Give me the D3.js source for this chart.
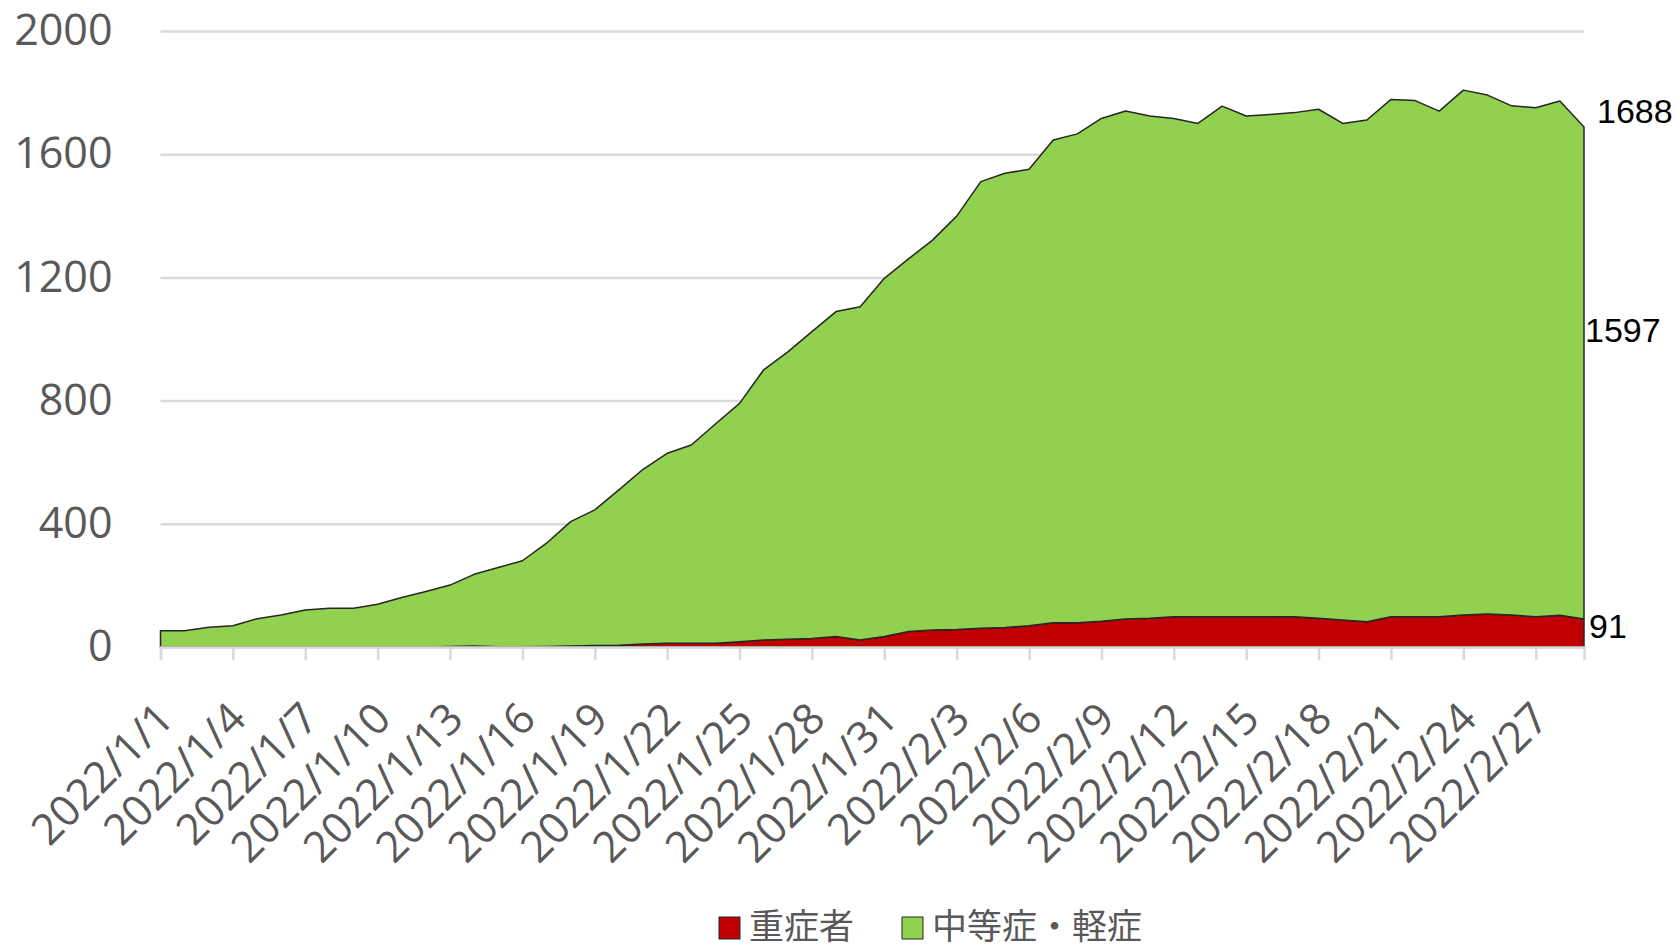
<!DOCTYPE html>
<html>
<head>
<meta charset="utf-8">
<script src="https://cdn.jsdelivr.net/npm/d3@7"></script>
<style>
  body { margin: 0; background: #fff; }
  svg { display: block; }
</style>
</head>
<body>
<svg id="chart"></svg>
<script>
// categories: one day each, 2022/1/1 .. 2022/3/1
let dates = d3.timeDay.range(new Date(2022, 0, 1), new Date(2022, 2, 2))

// 重症者
let severe = [0, 0, 0, 0, 0, 0, 0, 0, 0, 0, 0, 0, 2, 3, 1, 1, 2, 3, 5, 6,
              10, 12, 12, 12, 17, 23, 25, 28, 34, 23, 34, 50, 55, 57, 61, 63, 69, 79, 79, 84,
              91, 93, 98, 98, 98, 98, 98, 98, 93, 88, 82, 98, 98, 98, 104, 107, 104, 98, 103, 91]

// 中等症・軽症
let moderate = [53, 53, 64, 69, 92, 104, 120, 126, 126, 139, 161, 180, 199, 233, 257, 279, 335, 404, 440, 504,
                567, 617, 644, 712, 774, 877, 933, 996, 1055, 1082, 1163, 1210, 1266, 1342, 1450, 1475, 1482, 1567, 1587, 1632,
                1649, 1631, 1618, 1602, 1658, 1626, 1631, 1637, 1653, 1612, 1629, 1680, 1676, 1642, 1704, 1685, 1653, 1653, 1670, 1597]

let seriesNames = ["重症者", "中等症・軽症"]
let seriesColors = ["#c00000", "#92d050"]
let yTicks = [0, 400, 800, 1200, 1600, 2000]

let width = 1677
let height = 949
let margin = { top: 31, bottom: 302, left: 160.5, right: 93 }
let bodyWidth = width - margin.left - margin.right
let bodyHeight = height - margin.top - margin.bottom

let svg = d3.select("#chart")
            .attr("width", width)
            .attr("height", height)

let rows = dates.map((d, i) => ({ date: d, severe: severe[i], moderate: moderate[i] }))

let xScale = d3.scaleTime()
               .domain([dates[0], dates[dates.length - 1]])
               .range([margin.left, margin.left + bodyWidth])

let yScale = d3.scaleLinear()
               .domain([0, 2000])
               .range([margin.top + bodyHeight, margin.top])

// gridlines + y labels
let yAxis = d3.axisLeft(yScale)
              .tickValues(yTicks)
              .tickFormat(d3.format("d"))
              .tickSize(-bodyWidth)
              .tickPadding(48)

svg.append("g")
   .attr("transform", `translate(${margin.left},0)`)
   .call(yAxis)
   .call(g => g.select(".domain").remove())
   .call(g => g.selectAll("line").attr("stroke", "#d9d9d9").attr("stroke-width", 2.5))
   .call(g => g.selectAll("text")
               .attr("fill", "#595959")
               .style("font-family", "'Open Sans', sans-serif")
               .style("font-size", "43px"))

// stacked areas
let stack = d3.stack().keys(["severe", "moderate"])
let layers = stack(rows)

let area = d3.area()
             .x(d => xScale(d.data.date))
             .y0(d => yScale(d[0]))
             .y1(d => yScale(d[1]))

svg.append("g")
   .selectAll("path")
   .data(layers)
   .enter()
   .append("path")
     .attr("d", area)
     .attr("fill", (d, i) => seriesColors[i])
     .attr("stroke", "#262626")
     .attr("stroke-width", 1.5)
     .attr("stroke-linejoin", "round")

// x axis
let tickDates = dates.filter((d, i) => i % 3 == 0)
let xAxis = d3.axisBottom(xScale)
              .tickValues(tickDates)
              .tickSize(13)
              .tickFormat(d3.timeFormat("%Y/%-m/%-d"))

svg.append("g")
   .attr("transform", `translate(0,${margin.top + bodyHeight})`)
   .call(xAxis)
   .call(g => g.select(".domain").attr("stroke", "#d9d9d9").attr("stroke-width", 2.5))
   .call(g => g.selectAll("line").attr("stroke", "#d9d9d9").attr("stroke-width", 2.5))
   .call(g => g.selectAll("text")
               .attr("fill", "#595959")
               .attr("y", 0)
               .attr("dy", 0)
               .attr("text-anchor", "end")
               .attr("transform", "translate(15,74) rotate(-45)")
               .style("font-family", "'Open Sans', sans-serif")
               .style("font-size", "43px"))

// end labels
let last = rows.length - 1
let xEnd = xScale(dates[last])
let total = severe[last] + moderate[last]
let labelStyle = t => t.style("font-family", "'Liberation Sans', Arial, sans-serif")
                      .style("font-size", "34px")
                      .attr("fill", "#000")

svg.append("text").call(labelStyle)
   .attr("x", xEnd + 13).attr("y", yScale(total) - 4)
   .text(total)
svg.append("text").call(labelStyle)
   .attr("x", xEnd + 1).attr("y", yScale(total * 0.61) + 12)
   .text(moderate[last])
svg.append("text").call(labelStyle)
   .attr("x", xEnd + 5).attr("y", yScale(severe[last] * 0.75) + 12)
   .text(severe[last])

// legend
let legendItems = [
    { name: seriesNames[0], color: seriesColors[0], x: 719 },
    { name: seriesNames[1], color: seriesColors[1], x: 902 }
]

let legend = svg.append("g")
legend.selectAll("rect")
      .data(legendItems)
      .enter()
      .append("rect")
        .attr("x", d => d.x)
        .attr("y", 917)
        .attr("width", 21)
        .attr("height", 22)
        .attr("fill", d => d.color)
        .attr("stroke", "#262626")
        .attr("stroke-width", 1)

legend.selectAll("text")
      .data(legendItems)
      .enter()
      .append("text")
        .attr("x", d => d.x + 30)
        .attr("y", 939)
        .attr("fill", "#595959")
        .style("font-family", "'Noto Sans CJK JP', sans-serif")
        .style("font-size", "35px")
        .text(d => d.name)
</script>
</body>
</html>
